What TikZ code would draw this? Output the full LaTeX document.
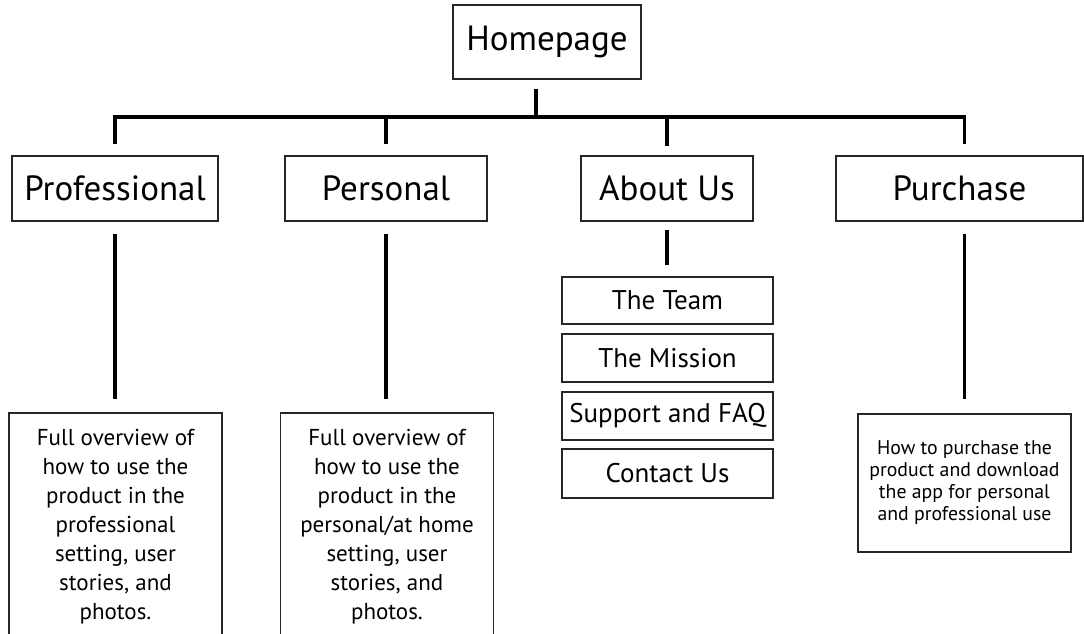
\documentclass[tikz,border=0pt]{standalone}
\usepackage{fontspec}
\setmainfont{PT Sans}
\begin{document}
\begin{tikzpicture}[x=1pt,y=-1pt,
  conn/.style={line width=3.6pt,black},
  box/.style={draw=black!85,line width=1.6pt,inner sep=0pt,align=center,fill=white},
  big/.style={box,font=\fontsize{35}{42}\selectfont},
  sub/.style={box,font=\fontsize{27}{31}\selectfont,minimum width=211pt},
  det/.style={box,font=\fontsize{23}{29}\selectfont,minimum width=213pt},
  pdetail/.style={box,font=\fontsize{19.8}{22}\selectfont,minimum width=213pt}]
\useasboundingbox (0,0) rectangle (1084,633);
\fill[white] (0,0) rectangle (1084,633);
\clip (0,0) rectangle (1084,633);
% top level
\node[big,minimum width=188pt,minimum height=74pt] (home) at (547,42) {Homepage};
% level 1
\node[big,minimum width=206pt,minimum height=65pt] (prof) at (115,188.5) {Professional};
\node[big,minimum width=202pt,minimum height=65pt] (pers) at (386,188.5) {Personal};
\node[big,minimum width=172pt,minimum height=65pt] (about) at (667,188.5) {About Us};
\node[big,minimum width=247pt,minimum height=65pt] (purch) at (959.5,188.5) {Purchase};
% about us children
\node[sub,minimum height=47pt] (team) at (667.5,300.5) {The Team};
\node[sub,minimum height=48pt] (mission) at (667.5,358) {The Mission};
\node[sub,minimum height=48pt] (support) at (667.5,416) {Support and FAQ};
\node[sub,minimum height=49pt] (contact) at (667.5,473.5) {Contact Us};
% details
\node[det,minimum height=228pt] (det1) at (115.5,527) {Full overview of\\how to use the\\product in the\\professional\\setting, user\\stories, and\\photos.};
\node[det,minimum height=228pt] (det2) at (387,527) {Full overview of\\how to use the\\product in the\\personal/at home\\setting, user\\stories, and\\photos.};
\node[pdetail,minimum height=138pt] (pdet) at (964.5,483) {How to purchase the\\product and download\\the app for personal\\and professional use};
% hub
\coordinate (hb) at (536,117);
\draw[conn,shorten <=9pt] (home.south -| hb) -- (hb);
\draw[conn,line join=miter,shorten <=11pt,shorten >=11pt] (prof.north) |- (hb) -| (pdet.north |- purch.north);
\draw[conn,shorten >=11pt] (pers.north |- hb) -- (pers.north);
\draw[conn,shorten >=9pt] (about.north |- hb) -- (about.north);
% lower connectors
\draw[conn,shorten <=12pt,shorten >=13pt] (prof.south) -- (prof.south |- det1.north);
\draw[conn,shorten <=12pt,shorten >=13pt] (pers.south) -- (pers.south |- det2.north);
\draw[conn,shorten <=8pt,shorten >=11pt] (about.south) -- (about.south |- team.north);
\draw[conn,shorten <=12pt,shorten >=14pt] (pdet.north |- purch.south) -- (pdet.north);
\end{tikzpicture}
\end{document}
